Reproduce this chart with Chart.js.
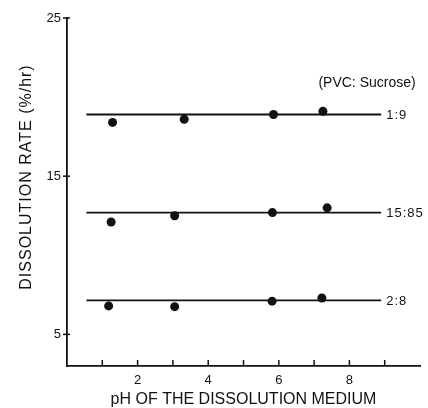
<!DOCTYPE html>
<html>
<head>
<meta charset="utf-8">
<script src="https://cdn.jsdelivr.net/npm/chart.js@4.4.1/dist/chart.umd.min.js"></script>
<style>
  html, body { margin: 0; padding: 0; background: #fff; }
</style>
</head>
<body>
<canvas id="rateChart" width="428" height="408"></canvas>
<script>
// PVC:Sucrose ratios, top to bottom
const ratios = ['1:9', '15:85', '2:8'];

// measured points (pH, rate %/hr)
const phTop = [1.29, 3.32, 5.85, 7.25];
const rateTop = [18.4, 18.6, 18.9, 19.1];
const phMid = [1.25, 3.05, 5.82, 7.37];
const rateMid = [12.1, 12.5, 12.7, 13.0];
const phLow = [1.18, 3.05, 5.81, 7.22];
const rateLow = [6.8, 6.75, 7.1, 7.3];

// horizontal mean lines drawn across the pH range
const fitRates = [18.9, 12.7, 7.15];
const fitPhRange = [0.55, 8.9];

const xTickLabels = [2, 4, 6, 8];
const yTickLabels = [5, 15, 25];

const INK = '#111';
const FONT = '"Liberation Sans", Arial, sans-serif';

function toPoints(xs, ys) {
    return xs.map((x, i) => ({ x: x, y: ys[i] }));
}

const pointSets = [toPoints(phTop, rateTop), toPoints(phMid, rateMid), toPoints(phLow, rateLow)];

const datasets = [];
pointSets.forEach((pts, i) => {
    datasets.push({
        label: ratios[i],
        data: pts,
        showLine: false,
        pointRadius: 4.5,
        pointBackgroundColor: INK,
        pointBorderColor: INK,
        pointBorderWidth: 0
    });
});
fitRates.forEach((r, i) => {
    datasets.push({
        label: ratios[i] + ' mean',
        data: fitPhRange.map(x => ({ x: x, y: r })),
        showLine: true,
        borderColor: INK,
        borderWidth: 1.8,
        pointRadius: 0
    });
});

// inward x ticks, small y ticks, line labels and the y title
const extras = {
    id: 'extras',
    afterDraw(chart) {
        const ctx = chart.ctx;
        const xs = chart.scales.x, ys = chart.scales.y;
        ctx.save();
        ctx.strokeStyle = INK;
        ctx.lineWidth = 1.5;
        for (let v = 1; v <= 9; v++) {
            const px = xs.getPixelForValue(v);
            ctx.beginPath();
            ctx.moveTo(px, ys.bottom);
            ctx.lineTo(px, ys.bottom - 6);
            ctx.stroke();
        }
        yTickLabels.forEach(v => {
            const py = ys.getPixelForValue(v);
            ctx.beginPath();
            ctx.moveTo(xs.left - 4, py);
            ctx.lineTo(xs.left + 3, py);
            ctx.stroke();
        });

        ctx.fillStyle = INK;
        ctx.font = '13px ' + FONT;
        ctx.letterSpacing = '1px';
        ctx.textBaseline = 'middle';
        ctx.textAlign = 'left';
        const endX = xs.getPixelForValue(fitPhRange[1]);
        fitRates.forEach((r, i) => {
            ctx.fillText(ratios[i], endX + 5, ys.getPixelForValue(r) + 1);
        });
        ctx.letterSpacing = '0px';
        ctx.font = '14px ' + FONT;
        ctx.textAlign = 'center';
        ctx.fillText('(PVC: Sucrose)', xs.getPixelForValue(8.5), ys.getPixelForValue(20.9));

        ctx.font = '16px ' + FONT;
        ctx.letterSpacing = '1px';
        ctx.translate(27, 177);
        ctx.rotate(-Math.PI / 2);
        ctx.fillText('DISSOLUTION RATE (%/hr)', 0, 0);
        ctx.restore();
    }
};

new Chart(document.getElementById('rateChart'), {
    type: 'scatter',
    data: { datasets: datasets },
    options: {
        responsive: false,
        animation: false,
        devicePixelRatio: 1,
        layout: { padding: { left: 0, right: 8, top: 18, bottom: 0 } },
        plugins: {
            legend: { display: false },
            tooltip: { enabled: false }
        },
        scales: {
            x: {
                type: 'linear',
                min: 0,
                max: 10,
                grid: { display: false, drawTicks: false },
                border: { display: true, color: INK, width: 1.8 },
                ticks: {
                    stepSize: 1,
                    autoSkip: false,
                    maxRotation: 0,
                    padding: 7,
                    color: INK,
                    font: { family: FONT, size: 13 },
                    callback: v => xTickLabels.includes(v) ? String(v) : ''
                },
                title: {
                    display: true,
                    text: 'pH OF THE DISSOLUTION MEDIUM',
                    color: INK,
                    font: { family: FONT, size: 16, lineHeight: 1 },
                    padding: { top: 2, bottom: 0 }
                },
                afterFit: s => { s.height = 42; }
            },
            y: {
                type: 'linear',
                min: 3.0,
                max: 25,
                grid: { display: false, drawTicks: false },
                border: { display: true, color: INK, width: 1.8 },
                afterBuildTicks: s => { s.ticks = yTickLabels.map(v => ({ value: v })); },
                ticks: {
                    padding: 6,
                    color: INK,
                    font: { family: FONT, size: 13 }
                },
                afterFit: s => { s.width = 67; }
            }
        }
    },
    plugins: [extras]
});
</script>
</body>
</html>
